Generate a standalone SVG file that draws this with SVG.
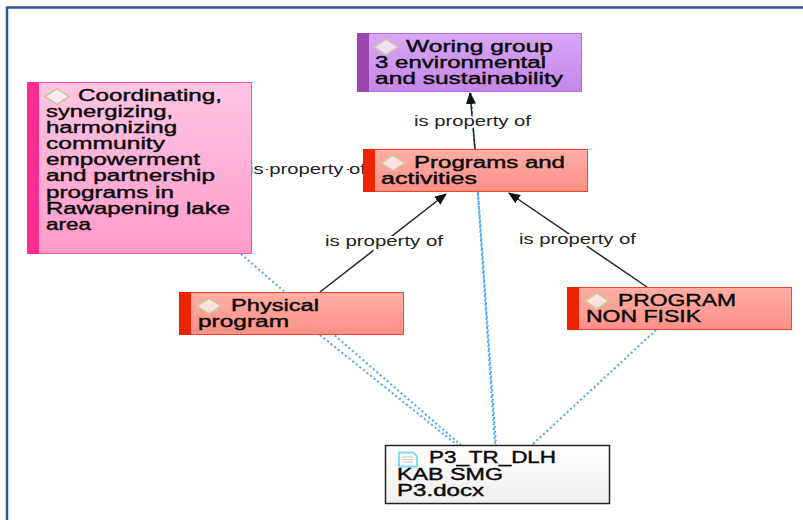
<svg xmlns="http://www.w3.org/2000/svg" width="803" height="520" viewBox="0 0 803 520">
<style>
.t{font-family:"Liberation Sans",Arial,sans-serif;font-size:16px;fill:#0a0a0a;stroke:#0a0a0a;stroke-width:.4px}
.l{font-family:"Liberation Sans",Arial,sans-serif;font-size:15px;fill:#222;stroke:#fff;stroke-width:4px;paint-order:stroke}
.s{fill:none;stroke:#222;stroke-width:1.5px}
.d{fill:none;stroke:#4aa6fb;stroke-width:2px;stroke-dasharray:2 2.6}
.k{fill:#ffffffa8;stroke:#c9c79f;stroke-width:1.6px}
</style>
<defs>
<linearGradient id="gp" x1="0" y1="0" x2="0" y2="1"><stop offset="0" stop-color="#ffc6e3"/><stop offset="1" stop-color="#ff9bcb"/></linearGradient>
<linearGradient id="gv" x1="0" y1="0" x2="0" y2="1"><stop offset="0" stop-color="#d8a6f8"/><stop offset="1" stop-color="#c487e8"/></linearGradient>
<linearGradient id="gr" x1="0" y1="0" x2="0" y2="1"><stop offset="0" stop-color="#ffaea5"/><stop offset="1" stop-color="#ff9087"/></linearGradient>
<linearGradient id="gd" x1="0" y1="0" x2="0" y2="1"><stop offset="0" stop-color="#ffffff"/><stop offset="1" stop-color="#efefef"/></linearGradient>
<marker id="a" viewBox="0 0 12 10" refX="11" refY="5" markerWidth="12" markerHeight="10" markerUnits="userSpaceOnUse" orient="auto"><path d="M0 0L12 5L0 10z" fill="#111"/></marker>
</defs>
<path d="M7 520V7.5H803" fill="none" stroke="#2f5597" stroke-width="2.5"/>
<g id="connectors">
<path class="d" d="M241 254L461 445"/>
<path class="d" d="M320 335L457 445"/>
<path class="d" d="M471 93L495 445"/>
<path class="d" d="M478 192L496 445"/>
<path class="d" d="M656 330L532 445"/>
<path class="s" d="M475 149L470 93" marker-end="url(#a)"/>
<path class="s" d="M320 292L446 194" marker-end="url(#a)"/>
<path class="s" d="M647 287L509 193" marker-end="url(#a)"/>
<text class="l" x="414" y="126" textLength="117" lengthAdjust="spacingAndGlyphs">is property of</text>
<text class="l" x="325" y="246" textLength="118" lengthAdjust="spacingAndGlyphs">is property of</text>
<text class="l" x="519" y="244" textLength="117" lengthAdjust="spacingAndGlyphs">is property of</text>
<text class="l" x="249" y="174" textLength="117" lengthAdjust="spacingAndGlyphs">is property of</text>
<path d="M266 169.500h2M347 169.500h2" stroke="#333" stroke-width="1" fill="none"/>
</g>
<g id="n-coordinating">
<rect x="27.500" y="82.500" width="224" height="171" fill="url(#gp)" stroke="#ff4da6"/>
<rect x="27" y="82" width="12" height="172" fill="#ff2d92"/>
<path class="k" d="M45 96.500L57 88.500L69 96.500L57 104.500z"/>
<text class="t" x="78" y="101" textLength="144" lengthAdjust="spacingAndGlyphs">Coordinating,</text>
<text class="t" x="46" y="117" textLength="127" lengthAdjust="spacingAndGlyphs">synergizing,</text>
<text class="t" x="46" y="133" textLength="131" lengthAdjust="spacingAndGlyphs">harmonizing</text>
<text class="t" x="46" y="149" textLength="119" lengthAdjust="spacingAndGlyphs">community</text>
<text class="t" x="46" y="165" textLength="154" lengthAdjust="spacingAndGlyphs">empowerment</text>
<text class="t" x="46" y="181" textLength="169" lengthAdjust="spacingAndGlyphs">and partnership</text>
<text class="t" x="46" y="198" textLength="128" lengthAdjust="spacingAndGlyphs">programs in</text>
<text class="t" x="46" y="214" textLength="184" lengthAdjust="spacingAndGlyphs">Rawapening lake</text>
<text class="t" x="46" y="230" textLength="45" lengthAdjust="spacingAndGlyphs">area</text>
</g>
<g id="n-working-group">
<rect x="357.500" y="33.500" width="224" height="58" fill="url(#gv)" stroke="#b56ccb"/>
<rect x="357" y="33" width="12" height="59" fill="#9b45ad"/>
<path class="k" d="M374 47L386 39L398 47L386 55z"/>
<text class="t" x="406" y="52" textLength="147" lengthAdjust="spacingAndGlyphs">Woring group</text>
<text class="t" x="375" y="68" textLength="171" lengthAdjust="spacingAndGlyphs">3 environmental</text>
<text class="t" x="375" y="84" textLength="188" lengthAdjust="spacingAndGlyphs">and sustainability</text>
</g>
<g id="n-programs">
<rect x="363.500" y="149.500" width="224" height="42" fill="url(#gr)" stroke="#f5452c"/>
<rect x="363" y="149" width="12" height="43" fill="#ec2500"/>
<path class="k" d="M381 163L393 155L405 163L393 171z"/>
<text class="t" x="414" y="168" textLength="151" lengthAdjust="spacingAndGlyphs">Programs and</text>
<text class="t" x="381" y="184" textLength="96" lengthAdjust="spacingAndGlyphs">activities</text>
</g>
<g id="n-physical">
<rect x="179.500" y="292.500" width="224" height="42" fill="url(#gr)" stroke="#f5452c"/>
<rect x="179" y="292" width="12" height="43" fill="#ec2500"/>
<path class="k" d="M197 306L209 298L221 306L209 314z"/>
<text class="t" x="231" y="311" textLength="88" lengthAdjust="spacingAndGlyphs">Physical</text>
<text class="t" x="198" y="327" textLength="91" lengthAdjust="spacingAndGlyphs">program</text>
</g>
<g id="n-non-fisik">
<rect x="567.500" y="287.500" width="224" height="42" fill="url(#gr)" stroke="#f5452c"/>
<rect x="567" y="287" width="12" height="43" fill="#ec2500"/>
<path class="k" d="M585 301L597 293L609 301L597 309z"/>
<text class="t" x="618" y="306" textLength="118" lengthAdjust="spacingAndGlyphs">PROGRAM</text>
<text class="t" x="586" y="322" textLength="115" lengthAdjust="spacingAndGlyphs">NON FISIK</text>
</g>
<g id="n-doc">
<rect x="385.500" y="445.500" width="224" height="58" fill="url(#gd)" stroke="#222" stroke-width="1.500"/>
<path d="M399 452.500H413L417 456V466.500H399z" fill="#fff" stroke="#7fdcf5" stroke-width="2"/>
<path d="M402 457h11M402 459.500h11M402 462h11" stroke="#c4c4c4" stroke-width="1.200" fill="none"/>
<text class="t" x="429" y="463" textLength="127" lengthAdjust="spacingAndGlyphs">P3_TR_DLH</text>
<text class="t" x="397" y="480" textLength="106" lengthAdjust="spacingAndGlyphs">KAB SMG</text>
<text class="t" x="397" y="496" textLength="87" lengthAdjust="spacingAndGlyphs">P3.docx</text>
</g>
</svg>
